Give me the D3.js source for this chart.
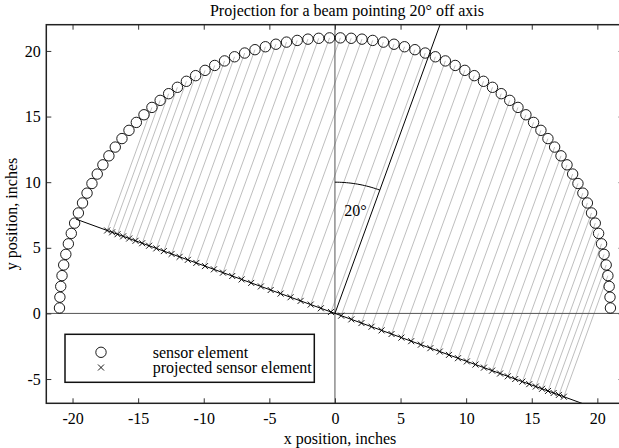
<!DOCTYPE html>
<html>
<head>
<meta charset="utf-8">
<script src="https://cdn.jsdelivr.net/npm/d3@7"></script>
<style>
  body { margin: 0; background: #fff; }
  svg text { font-family: "Liberation Serif", serif; font-size: 16px; }
</style>
</head>
<body>
<svg id="chart"></svg>
<script>
// sensor element angles on the semicircle, degrees from +x axis
const elementAngles = [
  1.125, 3.375, 5.625, 7.875, 10.125, 12.375, 14.625, 16.875, 19.125, 21.375,
  23.625, 25.875, 28.125, 30.375, 32.625, 34.875, 37.125, 39.375, 41.625, 43.875,
  46.125, 48.375, 50.625, 52.875, 55.125, 57.375, 59.625, 61.875, 64.125, 66.375,
  68.625, 70.875, 73.125, 75.375, 77.625, 79.875, 82.125, 84.375, 86.625, 88.875,
  91.125, 93.375, 95.625, 97.875, 100.125, 102.375, 104.625, 106.875, 109.125, 111.375,
  113.625, 115.875, 118.125, 120.375, 122.625, 124.875, 127.125, 129.375, 131.625, 133.875,
  136.125, 138.375, 140.625, 142.875, 145.125, 147.375, 149.625, 151.875, 154.125, 156.375,
  158.625, 160.875, 163.125, 165.375, 167.625, 169.875, 172.125, 174.375, 176.625, 178.875
];
const arrayRadius = 21;          // inches
const beamAngle = 20;            // degrees off the y axis
const projectedSpan = [7.875, 131.625]; // elements that get projected
const beamLength = 25;
const arcRadius = 10;

const xTicks = [-20, -15, -10, -5, 0, 5, 10, 15, 20];
const yTicks = [-5, 0, 5, 10, 15, 20];
const xDomain = [-22, 22];
const yDomain = [-6.85, 22];

const width = 619, height = 448;
const plot = { left: 46.3, right: 623.6, top: 24.7, bottom: 403.3 };

const rad = d => d * Math.PI / 180;

const svg = d3.select("#chart")
  .attr("width", width)
  .attr("height", height)
  .attr("font-family", "Liberation Serif, serif");

const x = d3.scaleLinear().domain(xDomain).range([plot.left, plot.right]);
const y = d3.scaleLinear().domain(yDomain).range([plot.bottom, plot.top]);

svg.append("defs").append("clipPath").attr("id", "plotclip")
  .append("rect")
  .attr("x", plot.left).attr("y", plot.top)
  .attr("width", plot.right - plot.left)
  .attr("height", plot.bottom - plot.top);

const g = svg.append("g").attr("clip-path", "url(#plotclip)");

// geometry
const elements = elementAngles.map(a => ({
  a: a,
  x: arrayRadius * Math.cos(rad(a)),
  y: arrayRadius * Math.sin(rad(a))
}));
const u = [Math.cos(rad(beamAngle)), -Math.sin(rad(beamAngle))];
const projected = elements
  .filter(e => e.a >= projectedSpan[0] && e.a <= projectedSpan[1])
  .map(e => {
    const t = e.x * u[0] + e.y * u[1];
    return { sx: e.x, sy: e.y, px: t * u[0], py: t * u[1] };
  });

// projection rays
g.append("g").selectAll("line")
  .data(projected)
  .enter()
  .append("line")
  .attr("x1", d => x(d.sx)).attr("y1", d => y(d.sy))
  .attr("x2", d => x(d.px)).attr("y2", d => y(d.py))
  .attr("stroke", "#adadad")
  .attr("stroke-width", 0.8);

// zero lines
g.append("line")
  .attr("x1", x(0)).attr("x2", x(0))
  .attr("y1", plot.top).attr("y2", plot.bottom)
  .attr("stroke", "#555").attr("stroke-width", 1);
g.append("line")
  .attr("x1", plot.left).attr("x2", plot.right)
  .attr("y1", y(0)).attr("y2", y(0))
  .attr("stroke", "#555").attr("stroke-width", 1);

// projection plane
g.append("line")
  .attr("x1", x(-arrayRadius * u[0])).attr("y1", y(-arrayRadius * u[1]))
  .attr("x2", x(arrayRadius * 1.2 * u[0])).attr("y2", y(arrayRadius * 1.2 * u[1]))
  .attr("stroke", "#000").attr("stroke-width", 1);

// beam direction
g.append("line")
  .attr("x1", x(0)).attr("y1", y(0))
  .attr("x2", x(beamLength * Math.sin(rad(beamAngle))))
  .attr("y2", y(beamLength * Math.cos(rad(beamAngle))))
  .attr("stroke", "#000").attr("stroke-width", 1);

// angle arc
const arcPts = d3.range(0, beamAngle + 0.01, 1).map(a => [arcRadius * Math.sin(rad(a)), arcRadius * Math.cos(rad(a))]);
g.append("path")
  .attr("d", d3.line().x(d => x(d[0])).y(d => y(d[1]))(arcPts))
  .attr("fill", "none")
  .attr("stroke", "#000")
  .attr("stroke-width", 1);

g.append("text")
  .attr("x", x(0.7)).attr("y", y(7.45))
  .text("20°");

// crosses
const cross = 3;
const crossPath = (cx, cy) => `M${cx - cross},${cy - cross}L${cx + cross},${cy + cross}M${cx - cross},${cy + cross}L${cx + cross},${cy - cross}`;
g.append("g").selectAll("path")
  .data(projected)
  .enter()
  .append("path")
  .attr("d", d => crossPath(x(d.px), y(d.py)))
  .attr("stroke", "#000")
  .attr("stroke-width", 0.9);

// sensor circles
g.append("g").selectAll("circle")
  .data(elements)
  .enter()
  .append("circle")
  .attr("cx", d => x(d.x))
  .attr("cy", d => y(d.y))
  .attr("r", 5.2)
  .attr("fill", "none")
  .attr("stroke", "#000")
  .attr("stroke-width", 0.9);

// axes, ticks inward
const fmt = d => d;
svg.append("g")
  .attr("transform", `translate(0,${plot.bottom})`)
  .call(d3.axisBottom(x).tickValues(xTicks).tickSize(-5).tickPadding(9.3).tickFormat(fmt));
svg.append("g")
  .attr("transform", `translate(${plot.left},0)`)
  .call(d3.axisLeft(y).tickValues(yTicks).tickSize(-5).tickPadding(5.6).tickFormat(fmt));
svg.append("g")
  .attr("transform", `translate(0,${plot.top})`)
  .call(d3.axisTop(x).tickValues(xTicks).tickSize(-5).tickFormat(""));
svg.append("g")
  .attr("transform", `translate(${plot.right},0)`)
  .call(d3.axisRight(y).tickValues(yTicks).tickSize(-5).tickFormat(""));

svg.selectAll(".domain").remove();
svg.selectAll(".tick line").attr("stroke", "#333");
svg.selectAll("g").attr("font-family", null).attr("font-size", null);
svg.selectAll(".tick text").attr("fill", "#000");

// frame
svg.append("rect")
  .attr("x", plot.left).attr("y", plot.top)
  .attr("width", plot.right - plot.left)
  .attr("height", plot.bottom - plot.top)
  .attr("fill", "none")
  .attr("stroke", "#222")
  .attr("stroke-width", 1.5);

// legend
const legend = svg.append("g");
legend.append("rect")
  .attr("x", 65).attr("y", 334.3)
  .attr("width", 249.3).attr("height", 48)
  .attr("fill", "#fff")
  .attr("stroke", "#111")
  .attr("stroke-width", 1.5);
legend.append("circle")
  .attr("cx", 101).attr("cy", 352.3).attr("r", 5.2)
  .attr("fill", "none").attr("stroke", "#000").attr("stroke-width", 0.9);
legend.append("path")
  .attr("d", crossPath(101, 367.5))
  .attr("stroke", "#000").attr("stroke-width", 0.9);
legend.append("text")
  .attr("x", 152.7).attr("y", 357.5)
  .text("sensor element");
legend.append("text")
  .attr("x", 152.7).attr("y", 373)
  .text("projected sensor element");

// titles
svg.append("text")
  .attr("x", 347).attr("y", 16)
  .attr("text-anchor", "middle")
  .text("Projection for a beam pointing 20° off axis");
svg.append("text")
  .attr("x", 340).attr("y", 444)
  .attr("text-anchor", "middle")
  .text("x position, inches");
svg.append("text")
  .attr("transform", `translate(17,${(plot.top + plot.bottom) / 2}) rotate(-90)`)
  .attr("text-anchor", "middle")
  .text("y position, inches");
</script>
</body>
</html>
